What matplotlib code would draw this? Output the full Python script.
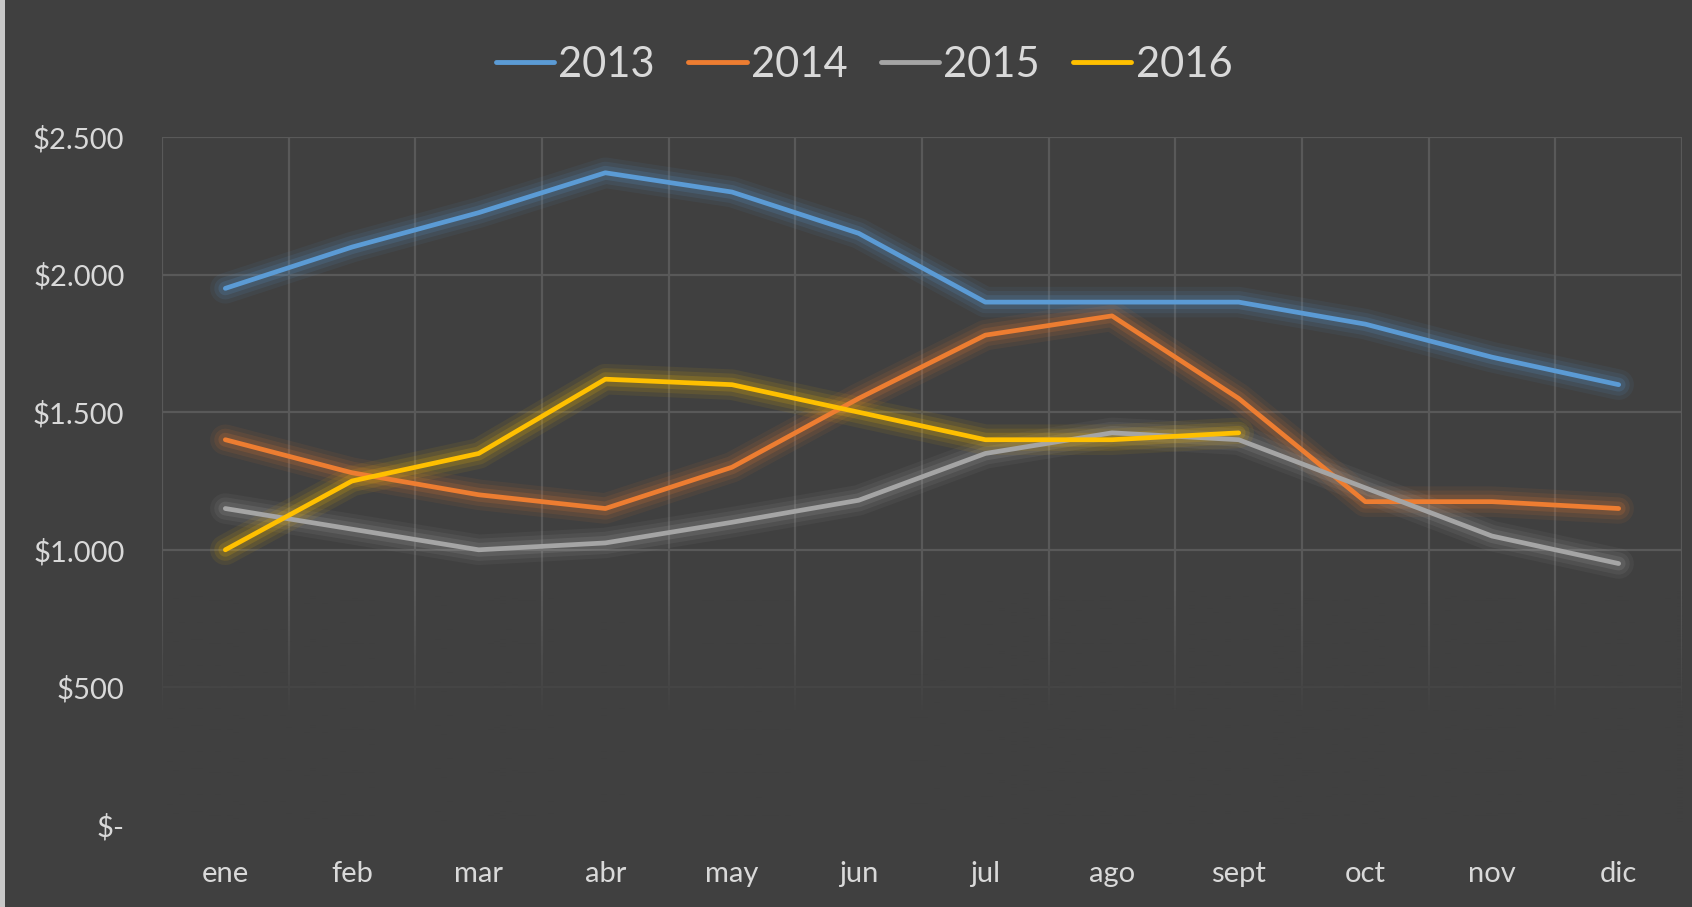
import matplotlib
matplotlib.use("Agg")
import matplotlib.pyplot as plt
from matplotlib.patches import Rectangle
from matplotlib.ticker import FuncFormatter
import numpy as np

plt.rcParams['font.family'] = ['Lato', 'DejaVu Sans']

months = ["ene", "feb", "mar", "abr", "may", "jun", "jul", "ago", "sept", "oct", "nov", "dic"]
years = ["2013", "2014", "2015", "2016"]
v2013 = [1950, 2100, 2225, 2370, 2300, 2150, 1900, 1900, 1900, 1820, 1700, 1600]
v2014 = [1400, 1280, 1200, 1150, 1300, 1550, 1780, 1850, 1550, 1175, 1175, 1150]
v2015 = [1150, 1075, 1000, 1025, 1100, 1180, 1350, 1425, 1400, 1225, 1050, 950]
v2016 = [1000, 1250, 1350, 1620, 1600, 1500, 1400, 1400, 1425]
colors = ["#5B9BD5", "#ED7D31", "#A5A5A5", "#FFC000"]

bg = "#404040"
txt = "#D9D9D9"

fig = plt.figure(figsize=(16.92, 9.07), dpi=100, facecolor=bg)
ax = fig.add_axes([162 / 1692, 1 - 825 / 907, (1682 - 162) / 1692, (825 - 137) / 907])
ax.set_facecolor(bg)

for name, vals, c in zip(years, [v2013, v2014, v2015, v2016], colors):
    x = np.arange(len(vals))
    # soft glow
    for lw, a in [(22, 0.07), (16, 0.10), (10, 0.16)]:
        ax.plot(x, vals, color=c, lw=lw, alpha=a, solid_capstyle="round",
                solid_joinstyle="round", zorder=3)
    ax.plot(x, vals, color=c, lw=3.4, solid_capstyle="round",
            solid_joinstyle="round", zorder=4, label=name)

# fade gridlines towards the bottom
grad = np.linspace(0, 2500, 400)
alpha = np.clip((850 - grad) / 450, 0, 1)
arr = np.zeros((400, 1, 4))
arr[..., :3] = matplotlib.colors.to_rgb(bg)
arr[:, 0, 3] = alpha
ax.imshow(arr, extent=(-0.5, 11.5, 0, 2500), aspect="auto", origin="lower", zorder=1)

ax.set_xlim(-0.5, 11.5)
ax.set_ylim(0, 2500)
ax.set_xticks(range(12))
ax.set_xticklabels(months)
ax.set_xticks(np.arange(-0.5, 12, 1), minor=True)
ax.set_yticks(range(0, 2501, 500))
ax.yaxis.set_major_formatter(FuncFormatter(
    lambda v, p: "$-" if v == 0 else "${:,.0f}".format(v).replace(",", ".")))
ax.set_axisbelow(True)
ax.grid(axis="y", which="major", color="#595959", lw=1.6)
ax.grid(axis="x", which="minor", color="#595959", lw=1.6)
ax.tick_params(which="both", length=0)
ax.tick_params(axis="y", labelsize=21, labelcolor=txt, pad=27)
ax.tick_params(axis="x", labelsize=21, labelcolor=txt, pad=26)
for s in ax.spines.values():
    s.set_visible(False)

leg = fig.legend(loc="center", bbox_to_anchor=(864 / 1692, 1 - 65 / 907), ncol=4,
                 frameon=False, fontsize=30, handlelength=1.4, handletextpad=0.1,
                 columnspacing=0.8, labelcolor=txt)
for h in leg.get_lines():
    h.set_linewidth(3.5)

fig.add_artist(Rectangle((0, 0), 5 / 1692, 1, transform=fig.transFigure,
                         color="#C8C8C8", lw=0))

fig.savefig("out.png", dpi=100, facecolor=bg)
